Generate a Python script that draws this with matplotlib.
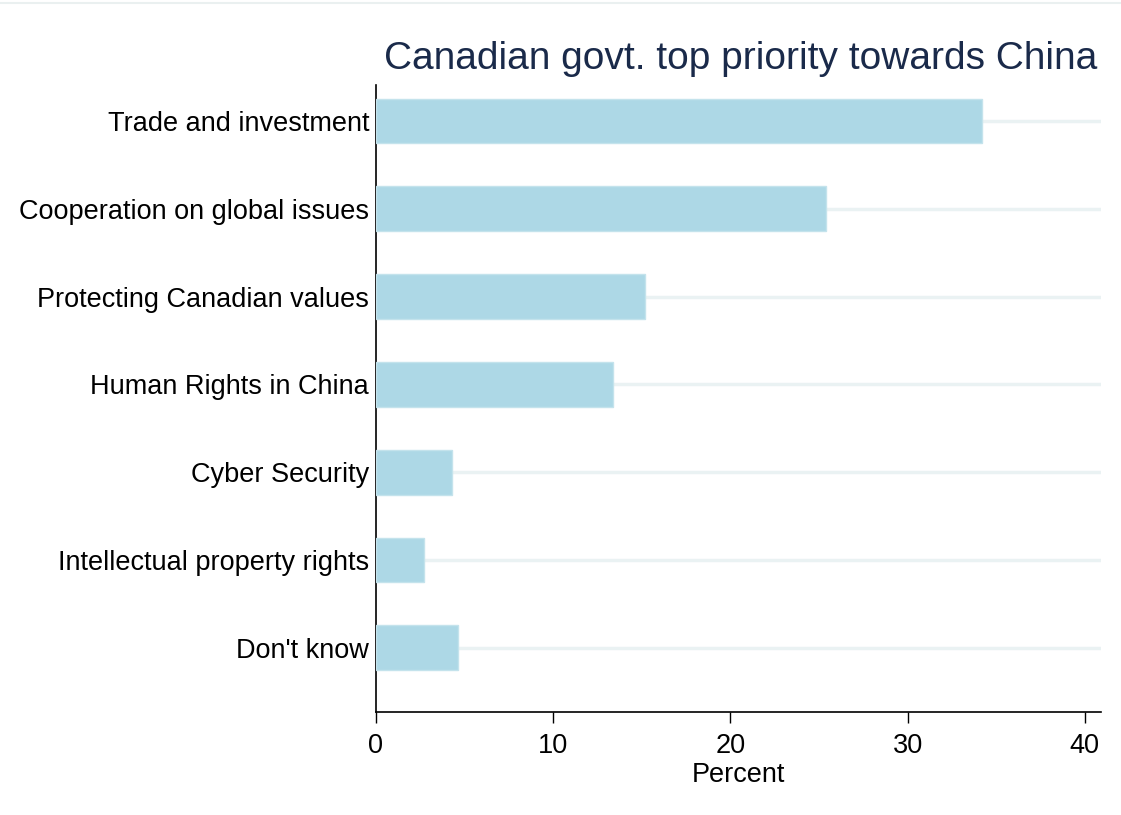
import matplotlib.pyplot as plt
import numpy as np

plt.rcParams['font.family'] = ['Liberation Sans', 'DejaVu Sans']

categories = ['Trade and investment', 'Cooperation on global issues',
              'Protecting Canadian values', 'Human Rights in China',
              'Cyber Security', 'Intellectual property rights', "Don't know"]
percent = [34.2, 25.4, 15.2, 13.4, 4.3, 2.7, 4.6]
xticks = [0, 10, 20, 30, 40]

fig = plt.figure(figsize=(11.21, 8.15), dpi=100)
ax = fig.add_axes([0.3354, 0.1264, 0.6466, 0.7693])

pos = np.arange(len(categories))
for p in pos:
    ax.axhline(p, color='#eaf2f3', lw=2.5, zorder=1)
ax.barh(pos, percent, height=0.51, color='#add8e6', edgecolor='#c4e3ec',
        lw=1, zorder=3)

ax.set_ylim(6.73, -0.41)
ax.set_xlim(0, 40.9)
ax.set_yticks(pos)
ax.set_yticklabels(categories, fontsize=19.5)
ax.set_xticks(xticks)
ax.set_xticklabels([str(t) for t in xticks], fontsize=19.5)
ax.tick_params(axis='y', length=0, pad=5)
ax.tick_params(axis='x', length=8, width=1, pad=7)
for s in ['top', 'right']:
    ax.spines[s].set_visible(False)
for s in ['left', 'bottom']:
    ax.spines[s].set_linewidth(1.2)
ax.set_xlabel('Percent', fontsize=19.5, labelpad=2)

fig.text(0.979, 0.928, 'Canadian govt. top priority towards China',
         ha='right', va='center', fontsize=28, color='#1a2a4a')
fig.add_artist(plt.Line2D([0, 1], [0.996, 0.996], color='#eaf0f0', lw=1.5))

fig.savefig('out.png')
